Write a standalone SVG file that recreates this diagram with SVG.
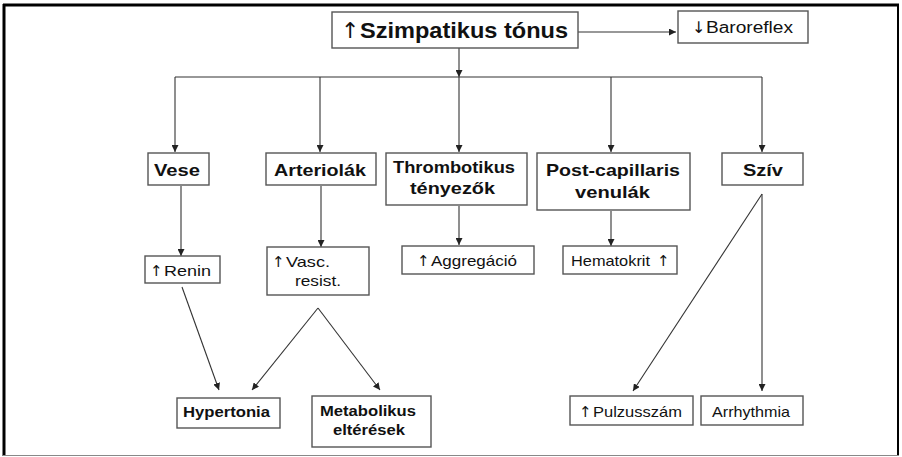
<svg xmlns="http://www.w3.org/2000/svg" width="902" height="457" viewBox="0 0 902 457">
<style>
  .box { fill: #fff; stroke: #555; stroke-width: 1.4; }
  .t { font-family: "Liberation Sans", Arial, sans-serif; fill: #111; }
  .b { font-weight: bold; }
  .ar { font-family: "DejaVu Sans", sans-serif; font-weight: normal; fill: #111; }
  .c { fill: none; stroke: #333; stroke-width: 1.1; }
</style>
<defs>
  <marker id="ah" viewBox="0 0 10 10" refX="10" refY="5" markerWidth="7" markerHeight="7" markerUnits="userSpaceOnUse" orient="auto">
    <path d="M0,0 L10,5 L0,10 z" fill="#222"/>
  </marker>
</defs>
<rect x="0" y="0" width="902" height="457" fill="#fff"/>
<g id="frame">
  <line x1="3" y1="5" x2="899" y2="5" stroke="#000" stroke-width="3"/>
  <line x1="4" y1="4" x2="4" y2="456" stroke="#000" stroke-width="3"/>
  <line x1="898" y1="4" x2="898" y2="456" stroke="#000" stroke-width="2"/>
  <line x1="3" y1="455.5" x2="899" y2="455.5" stroke="#888" stroke-width="1.2"/>
</g>
<g id="connectors">
  <line class="c" x1="578" y1="32" x2="676" y2="32" marker-end="url(#ah)"/>
  <line class="c" x1="459" y1="48" x2="459" y2="77" marker-end="url(#ah)"/>
  <line class="c" x1="175" y1="77" x2="762" y2="77"/>
  <line class="c" x1="175" y1="77" x2="175" y2="152" marker-end="url(#ah)"/>
  <line class="c" x1="320" y1="77" x2="320" y2="152" marker-end="url(#ah)"/>
  <line class="c" x1="459" y1="77" x2="459" y2="152" marker-end="url(#ah)"/>
  <line class="c" x1="611" y1="77" x2="611" y2="152" marker-end="url(#ah)"/>
  <line class="c" x1="762" y1="77" x2="762" y2="152" marker-end="url(#ah)"/>
  <line class="c" x1="181" y1="186" x2="181" y2="256" marker-end="url(#ah)"/>
  <line class="c" x1="321" y1="186" x2="321" y2="247" marker-end="url(#ah)"/>
  <line class="c" x1="459" y1="206" x2="459" y2="245" marker-end="url(#ah)"/>
  <line class="c" x1="611" y1="211" x2="611" y2="246" marker-end="url(#ah)"/>
  <line class="c" x1="182" y1="287" x2="219" y2="390" marker-end="url(#ah)"/>
  <line class="c" x1="318" y1="308" x2="252" y2="390" marker-end="url(#ah)"/>
  <line class="c" x1="318" y1="308" x2="380" y2="390" marker-end="url(#ah)"/>
  <line class="c" x1="762" y1="194" x2="633" y2="391" marker-end="url(#ah)"/>
  <line class="c" x1="762" y1="194" x2="762" y2="391" marker-end="url(#ah)"/>
</g>
<g id="szimpatikus">
  <rect class="box" x="332" y="12" width="246" height="36"/>
  <text class="t b" x="341" y="38" font-size="22"><tspan class="ar">↑</tspan><tspan x="360" textLength="208" lengthAdjust="spacingAndGlyphs">Szimpatikus tónus</tspan></text>
</g>
<g id="baroreflex">
  <rect class="box" x="678" y="11" width="130" height="32"/>
  <text class="t" x="692" y="33" font-size="16"><tspan class="ar">↓</tspan><tspan x="706" textLength="87" lengthAdjust="spacingAndGlyphs">Baroreflex</tspan></text>
</g>
<g id="vese">
  <rect class="box" x="148" y="153" width="61" height="32"/>
  <text class="t b" x="154" y="176" font-size="17" textLength="46" lengthAdjust="spacingAndGlyphs">Vese</text>
</g>
<g id="arteriolak">
  <rect class="box" x="266" y="153" width="110" height="32"/>
  <text class="t b" x="274" y="176" font-size="17" textLength="92" lengthAdjust="spacingAndGlyphs">Arteriolák</text>
</g>
<g id="thrombotikus">
  <rect class="box" x="386" y="153" width="141" height="52"/>
  <text class="t b" x="393" y="173" font-size="16" textLength="122" lengthAdjust="spacingAndGlyphs">Thrombotikus</text>
  <text class="t b" x="410" y="194" font-size="16" textLength="85" lengthAdjust="spacingAndGlyphs">tényezők</text>
</g>
<g id="postcapillaris">
  <rect class="box" x="537" y="153" width="153" height="57"/>
  <text class="t b" x="546" y="176" font-size="17" textLength="134" lengthAdjust="spacingAndGlyphs">Post-capillaris</text>
  <text class="t b" x="575" y="198" font-size="17" textLength="75" lengthAdjust="spacingAndGlyphs">venulák</text>
</g>
<g id="sziv">
  <rect class="box" x="722" y="153" width="81" height="32"/>
  <text class="t b" x="743" y="176" font-size="17" textLength="40" lengthAdjust="spacingAndGlyphs">Szív</text>
</g>
<g id="renin">
  <rect class="box" x="145" y="256" width="75" height="27"/>
  <text class="t" x="150" y="276" font-size="15"><tspan class="ar">↑</tspan><tspan x="164" textLength="47" lengthAdjust="spacingAndGlyphs">Renin</tspan></text>
</g>
<g id="vasc">
  <rect class="box" x="267" y="247" width="102" height="48"/>
  <text class="t" x="272" y="267" font-size="15"><tspan class="ar">↑</tspan><tspan x="286" textLength="44" lengthAdjust="spacingAndGlyphs">Vasc.</tspan></text>
  <text class="t" x="295" y="286" font-size="15" textLength="46" lengthAdjust="spacingAndGlyphs">resist.</text>
</g>
<g id="aggregacio">
  <rect class="box" x="402" y="246" width="132" height="28"/>
  <text class="t" x="417" y="266" font-size="15"><tspan class="ar">↑</tspan><tspan x="431" textLength="86" lengthAdjust="spacingAndGlyphs">Aggregáció</tspan></text>
</g>
<g id="hematokrit">
  <rect class="box" x="563" y="246" width="114" height="28"/>
  <text class="t" x="571" y="266" font-size="15"><tspan textLength="79" lengthAdjust="spacingAndGlyphs">Hematokrit</tspan><tspan class="ar" x="657">↑</tspan></text>
</g>
<g id="hypertonia">
  <rect class="box" x="177" y="398" width="103" height="30"/>
  <text class="t b" x="183" y="417" font-size="15" textLength="87" lengthAdjust="spacingAndGlyphs">Hypertonia</text>
</g>
<g id="metabolikus">
  <rect class="box" x="312" y="396" width="119" height="51"/>
  <text class="t b" x="320" y="416" font-size="15" textLength="96" lengthAdjust="spacingAndGlyphs">Metabolikus</text>
  <text class="t b" x="333" y="435" font-size="15" textLength="72" lengthAdjust="spacingAndGlyphs">eltérések</text>
</g>
<g id="pulzusszam">
  <rect class="box" x="570" y="396" width="123" height="29"/>
  <text class="t" x="579" y="417" font-size="15"><tspan class="ar">↑</tspan><tspan x="593" textLength="89" lengthAdjust="spacingAndGlyphs">Pulzusszám</tspan></text>
</g>
<g id="arrhythmia">
  <rect class="box" x="701" y="396" width="102" height="29"/>
  <text class="t" x="712" y="417" font-size="15" textLength="78" lengthAdjust="spacingAndGlyphs">Arrhythmia</text>
</g>
</svg>
